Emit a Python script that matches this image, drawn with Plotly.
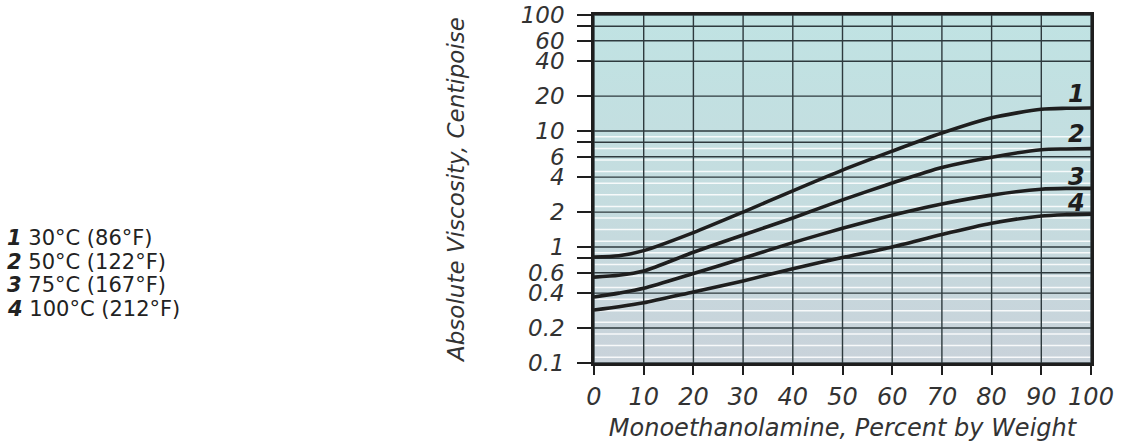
import numpy as np
import plotly.graph_objects as go

# ---- data ----
pct = [0, 5, 10, 20, 30, 40, 50, 60, 70, 80, 90, 95, 100]
visc_30C = [0.82, 0.84, 0.93, 1.33, 2.0, 3.05, 4.6, 6.7, 9.6, 13.0, 15.4, 15.7, 15.8]
visc_50C = [0.55, 0.57, 0.62, 0.90, 1.27, 1.78, 2.55, 3.56, 4.85, 5.95, 6.9, 7.0, 7.05]
visc_75C = [0.37, 0.40, 0.44, 0.59, 0.80, 1.09, 1.45, 1.88, 2.35, 2.8, 3.15, 3.2, 3.2]
visc_100C = [0.286, 0.305, 0.33, 0.41, 0.51, 0.65, 0.81, 1.0, 1.28, 1.6, 1.85, 1.9, 1.92]
curve_ids = ["1", "2", "3", "4"]
legend_labels = ["30°C (86°F)", "50°C (122°F)", "75°C (167°F)", "100°C (212°F)"]
label_pos_y = [20.8, 9.4, 4.0, 2.4]

x_ticks = [0, 10, 20, 30, 40, 50, 60, 70, 80, 90, 100]
y_tickvals = [100, 80, 60, 40, 20, 10, 8, 6, 4, 2, 1, 0.8, 0.6, 0.4, 0.2, 0.1]
y_ticktext = ["100", "", "60", "40", "20", "10", "", "6", "4", "2", "1", "", "0.6", "0.4", "0.2", "0.1"]
grid_short = [20, 10, 8, 4]          # horizontal lines stopping at 90 %
white_exp = [e / 100 for e in range(95, -100, -10)]  # faint white rules

FONT = "DejaVu Sans"
DARK = "#1e1e1e"
GRID = "#2e3a3e"
TXT = "#333333"

fig = go.Figure()

# background gradient panel
fig.add_trace(go.Scatter(
    x=[0, 100, 100, 0, 0], y=[0.1, 0.1, 100, 100, 0.1],
    mode="none", fill="toself",
    fillgradient=dict(type="vertical",
                      colorscale=[[0, "#c9d2da"], [0.45, "#c5dcdf"], [1, "#c0e3e3"]]),
    hoverinfo="skip", showlegend=False))

# white fine rules
wx, wy = [], []
for e in white_exp:
    v = 10 ** e
    wx += [0, 100, None]
    wy += [v, v, None]
fig.add_trace(go.Scatter(x=wx, y=wy, mode="lines",
                         line=dict(color="rgba(255,255,255,0.85)", width=1.5),
                         hoverinfo="skip", showlegend=False))

# dark grid
gx, gy = [], []
for v in y_tickvals:
    xe = 90 if v in grid_short else 100
    gx += [0, xe, None]
    gy += [v, v, None]
for xv in x_ticks:
    gx += [xv, xv, None]
    gy += [0.1, 100, None]
fig.add_trace(go.Scatter(x=gx, y=gy, mode="lines",
                         line=dict(color=GRID, width=1.4),
                         hoverinfo="skip", showlegend=False))

# curves
for ys in [visc_30C, visc_50C, visc_75C, visc_100C]:
    fig.add_trace(go.Scatter(x=pct, y=ys, mode="lines",
                             line=dict(color=DARK, width=3.6, shape="spline", smoothing=0.7),
                             hoverinfo="skip", showlegend=False))

# curve labels
for cid, yv in zip(curve_ids, label_pos_y):
    fig.add_annotation(x=97, y=np.log10(yv), xref="x", yref="y", text=f"<b><i>{cid}</i></b>",
                       showarrow=False, font=dict(family=FONT, size=24, color=DARK))

# legend text on the left
for i, (cid, lab) in enumerate(zip(curve_ids, legend_labels)):
    py = 238 + i * 23.5
    fig.add_annotation(x=(5 - 594) / 497, y=(363 - py) / 348, xref="paper", yref="paper",
                       xanchor="left", yanchor="middle", showarrow=False,
                       text=f"<b><i>{cid}</i></b> {lab}",
                       font=dict(family=FONT, size=21, color="#222"))

fig.update_xaxes(range=[0, 100], tickvals=x_ticks, showgrid=False, zeroline=False,
                 automargin=False,
                 ticks="outside", ticklen=9, tickwidth=1.5, tickcolor=DARK,
                 showline=True, linecolor=DARK, linewidth=3, mirror=True,
                 ticklabelstandoff=1,
                 tickfont=dict(family=FONT, size=24, color=TXT, style="italic"),
                 title=dict(text="Monoethanolamine, Percent by Weight", standoff=10,
                            font=dict(family=FONT, size=24, color=TXT, style="italic")))
fig.update_yaxes(type="log", range=[-1.0003, 2.0003], tickvals=y_tickvals, ticktext=y_ticktext,
                 showgrid=False, zeroline=False, automargin=False,
                 ticks="outside", ticklen=14, tickwidth=1.5, tickcolor=DARK,
                 showline=True, linecolor=DARK, linewidth=2.5, mirror=True,
                 ticklabelstandoff=8,
                 tickfont=dict(family=FONT, size=23, color=TXT, style="italic"),
                 title=dict(text="Absolute Viscosity, Centipoise", standoff=50,
                            font=dict(family=FONT, size=23, color=TXT, style="italic")))

fig.update_layout(width=1122, height=446, margin=dict(l=594, r=31, t=15, b=83),
                  paper_bgcolor="white", plot_bgcolor="white", showlegend=False)

fig.write_html("out.html")
